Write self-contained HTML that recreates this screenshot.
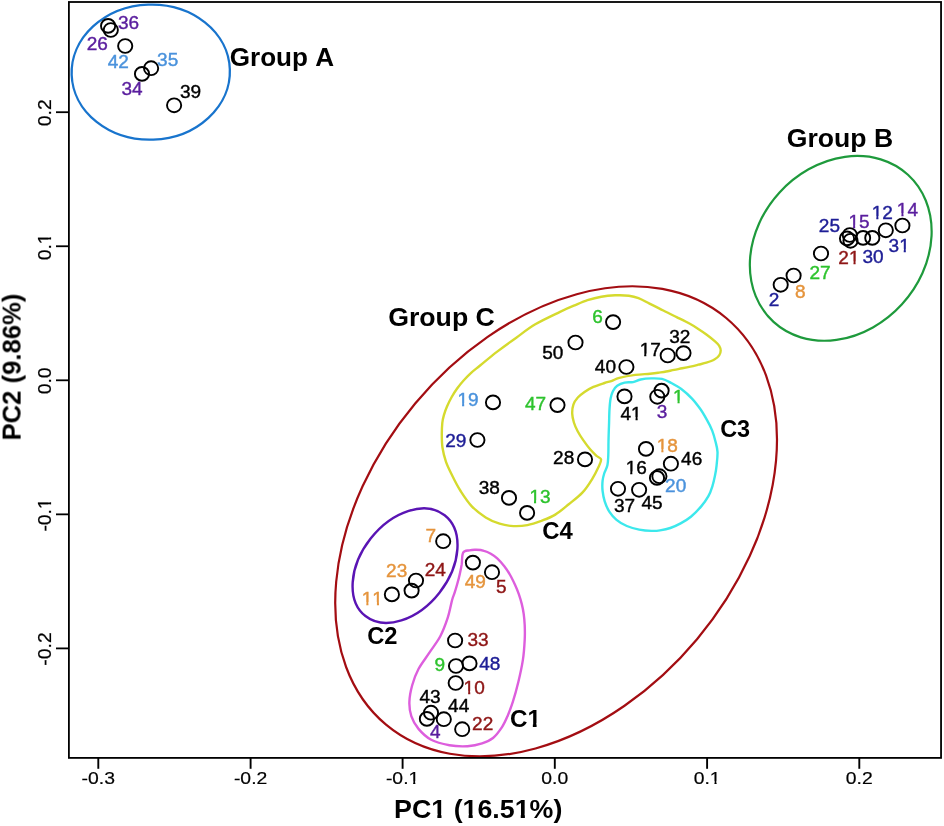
<!DOCTYPE html><html><head><meta charset="utf-8"><style>html,body{margin:0;padding:0;background:#fff;}svg{display:block;}text{font-family:"Liberation Sans",sans-serif;font-kerning:none;}svg{will-change:transform;}</style></head><body>
<svg width="944" height="826" viewBox="0 0 944 826">
<rect width="944" height="826" fill="#fff"/>
<g fill="none">
<ellipse cx="150.75" cy="72.12" rx="79.14" ry="67.56" transform="rotate(-2.13 150.75 72.12)" stroke="#1874CD" stroke-width="2.3"/>
<ellipse cx="840.74" cy="248.35" rx="82.9" ry="99.65" transform="rotate(42.42 840.74 248.35)" stroke="#1E9A3C" stroke-width="2.2"/>
<ellipse cx="556.1" cy="521.33" rx="265.09" ry="183.72" transform="rotate(-50.09 556.1 521.33)" stroke="#A30D12" stroke-width="2.2"/>
<ellipse cx="405.05" cy="565.63" rx="64.08" ry="43.77" transform="rotate(-51.83 405.05 565.63)" stroke="#5A14B4" stroke-width="2.4"/>
<path d="M460.6,491.0 C457.4,485.9 454.7,480.6 452.3,475.7 C449.9,470.8 447.6,466.4 446.0,461.8 C444.4,457.2 443.2,452.5 442.5,447.8 C441.8,443.1 441.8,438.0 441.8,433.9 C441.8,429.8 442.0,426.1 442.3,423.0 C442.6,419.9 443.1,417.9 443.9,415.1 C444.7,412.4 445.7,409.5 447.0,406.5 C448.3,403.5 450.0,400.0 451.7,397.0 C453.4,394.0 455.3,391.1 457.3,388.3 C459.3,385.6 461.2,383.1 463.6,380.5 C466.0,377.9 468.6,375.1 471.4,372.6 C474.1,370.1 475.8,369.0 480.1,365.5 C484.4,362.0 491.2,356.2 497.2,351.6 C503.2,347.0 509.9,342.2 516.3,337.7 C522.6,333.1 528.0,328.6 535.3,324.3 C542.6,320.0 553.6,315.0 560.0,311.9 C566.4,308.8 569.2,307.6 573.8,305.7 C578.4,303.8 582.9,301.7 587.5,300.2 C592.1,298.7 596.7,297.5 601.3,296.7 C605.9,295.9 610.5,295.5 615.1,295.3 C619.7,295.1 625.0,295.2 628.9,295.7 C632.8,296.2 635.1,296.8 638.5,298.1 C641.9,299.4 645.4,301.5 649.5,303.6 C653.6,305.7 658.7,308.2 663.3,310.5 C667.9,312.8 672.6,315.1 677.1,317.4 C681.6,319.6 686.8,322.1 690.3,324.0 C693.8,325.9 695.6,327.1 698.3,328.9 C701.0,330.6 703.7,332.5 706.4,334.5 C709.1,336.5 712.3,339.0 714.4,340.9 C716.5,342.8 718.2,344.2 719.2,345.8 C720.2,347.4 720.7,349.0 720.7,350.6 C720.7,352.2 720.2,353.9 719.2,355.4 C718.2,356.9 716.5,358.3 714.4,359.5 C712.3,360.7 709.1,361.8 706.4,362.7 C703.7,363.6 701.0,364.0 698.3,364.7 C695.6,365.4 693.0,366.1 690.3,366.7 C687.6,367.3 684.9,367.8 682.2,368.3 C679.5,368.8 676.9,369.4 674.2,369.9 C671.5,370.4 668.8,371.0 666.1,371.5 C663.4,372.0 660.8,372.3 658.1,372.7 C655.4,373.1 653.8,373.3 650.0,373.7 C646.2,374.1 640.4,374.2 635.3,374.9 C630.2,375.6 623.2,376.9 619.3,377.9 C615.4,378.9 614.5,379.9 612.0,380.8 C609.5,381.7 607.6,382.0 604.5,383.0 C601.4,384.0 596.7,385.4 593.4,386.9 C590.1,388.4 587.1,390.1 584.5,391.9 C581.9,393.7 579.6,395.4 577.8,397.5 C575.9,399.6 574.3,402.0 573.4,404.7 C572.5,407.4 572.1,410.6 572.2,413.6 C572.3,416.6 573.0,419.5 573.9,422.5 C574.8,425.5 576.2,428.5 577.8,431.5 C579.4,434.5 581.3,437.4 583.4,440.4 C585.5,443.4 587.9,446.7 590.1,449.3 C592.3,451.9 594.9,454.3 596.7,456.0 C598.5,457.7 600.6,457.6 601.0,459.3 C601.4,461.0 600.5,462.8 599.0,466.0 C597.5,469.2 595.0,474.4 592.3,478.8 C589.6,483.2 586.5,488.2 582.6,492.4 C578.7,496.6 573.7,500.3 569.1,504.0 C564.5,507.7 559.9,511.8 555.3,514.6 C550.7,517.4 545.9,519.1 541.3,520.9 C536.6,522.6 532.0,524.2 527.4,525.1 C522.8,526.0 518.1,526.3 513.5,526.1 C508.9,525.9 504.2,525.2 499.6,523.7 C495.0,522.2 490.3,520.3 485.7,517.4 C481.1,514.5 476.0,510.7 471.8,506.3 C467.6,501.9 463.9,496.1 460.6,491.0 Z" stroke="#D5DA2E" stroke-width="2.4"/>
<path d="M624.6,382.6 C627.2,382.0 630.4,382.6 633.1,382.1 C635.8,381.6 637.6,380.1 640.6,379.5 C643.6,378.9 647.6,378.5 651.2,378.4 C654.8,378.3 658.8,378.2 662.0,378.9 C665.2,379.6 667.4,380.9 670.6,382.6 C673.8,384.3 677.7,386.3 681.3,389.0 C684.9,391.7 688.8,395.2 692.0,398.6 C695.2,402.0 698.0,405.8 700.5,409.3 C703.0,412.9 704.9,416.3 706.9,419.9 C708.9,423.4 710.8,427.1 712.2,430.6 C713.6,434.2 714.5,437.6 715.4,441.2 C716.3,444.8 717.3,447.9 717.5,451.9 C717.7,455.9 717.0,461.4 716.6,465.3 C716.2,469.2 715.7,472.2 715.0,475.6 C714.3,479.0 713.6,482.5 712.5,485.9 C711.4,489.3 710.3,492.8 708.4,496.2 C706.5,499.6 704.1,503.0 701.2,506.4 C698.3,509.8 694.3,513.9 690.9,516.7 C687.5,519.5 684.0,521.5 680.6,523.4 C677.2,525.3 673.7,526.8 670.3,528.0 C666.9,529.2 663.1,529.9 660.0,530.4 C656.9,530.9 655.0,531.0 651.5,530.9 C648.0,530.8 643.3,530.4 639.2,529.6 C635.1,528.8 630.6,527.6 626.8,526.0 C623.0,524.4 619.4,522.2 616.5,519.8 C613.6,517.4 611.3,514.7 609.3,511.6 C607.3,508.5 605.8,504.7 604.7,501.3 C603.6,497.9 603.0,494.4 602.6,491.0 C602.2,487.6 602.3,483.6 602.6,480.7 C602.9,477.8 603.4,476.1 604.2,473.5 C605.0,470.9 606.7,468.4 607.4,465.3 C608.1,462.2 608.1,459.0 608.3,455.0 C608.5,451.0 608.4,446.2 608.5,441.2 C608.6,436.2 608.8,430.5 609.0,425.2 C609.2,419.9 609.2,413.7 609.5,409.3 C609.8,404.9 610.0,401.6 610.6,398.6 C611.2,395.6 611.8,393.3 612.9,391.2 C614.0,389.1 615.2,387.2 617.2,385.8 C619.2,384.4 622.0,383.2 624.6,382.6 Z" stroke="#3CE8EC" stroke-width="2.4"/>
<path d="M463.1,552.8 C464.4,550.4 467.2,550.8 469.4,550.3 C471.6,549.8 473.8,549.7 476.2,549.8 C478.6,549.9 481.6,550.1 484.0,550.8 C486.4,551.4 488.6,552.4 490.8,553.7 C493.1,555.0 495.2,556.5 497.5,558.6 C499.8,560.7 502.2,563.6 504.3,566.3 C506.4,569.0 508.3,571.9 510.1,575.0 C511.9,578.1 513.5,581.5 515.0,584.7 C516.5,587.9 517.8,591.2 518.9,594.4 C520.0,597.6 521.0,600.9 521.8,604.1 C522.6,607.3 523.2,610.3 523.7,613.8 C524.2,617.3 524.5,620.6 524.7,625.0 C524.9,629.4 525.0,634.1 524.7,639.9 C524.4,645.7 524.0,652.9 522.9,659.9 C521.8,666.9 520.1,674.7 518.4,681.7 C516.7,688.7 514.7,696.0 512.9,701.7 C511.1,707.5 509.3,712.0 507.5,716.2 C505.7,720.4 504.4,723.5 502.0,727.1 C499.6,730.7 496.3,735.3 493.0,738.0 C489.7,740.7 486.4,742.0 482.1,743.4 C477.9,744.8 472.9,745.9 467.5,746.2 C462.1,746.5 455.4,746.3 449.4,745.2 C443.3,744.1 436.3,742.5 431.2,739.8 C426.1,737.1 421.8,732.8 418.5,728.9 C415.2,725.0 412.8,720.7 411.3,716.2 C409.8,711.7 409.2,706.9 409.4,701.7 C409.5,696.6 410.7,690.8 412.2,685.3 C413.7,679.8 415.6,674.4 418.5,669.0 C421.4,663.6 425.8,658.2 429.4,652.7 C433.0,647.2 437.3,642.0 440.3,636.3 C443.3,630.5 445.6,624.2 447.6,618.2 C449.6,612.2 451.0,604.1 452.1,600.0 C453.2,595.9 453.5,596.1 454.4,593.4 C455.3,590.7 456.4,587.0 457.3,583.8 C458.2,580.6 459.1,577.3 459.8,574.1 C460.5,570.9 461.1,568.0 461.7,564.4 C462.2,560.8 461.8,555.1 463.1,552.8 Z" stroke="#DD5EDD" stroke-width="2.4"/>
</g>
<rect x="68.9" y="2.0" width="872.15" height="755.9" fill="none" stroke="#000" stroke-width="1.8"/>
<line x1="98.3" y1="757.9" x2="98.3" y2="768.8" stroke="#000" stroke-width="1.9"/>
<line x1="250.6" y1="757.9" x2="250.6" y2="768.8" stroke="#000" stroke-width="1.9"/>
<line x1="402.6" y1="757.9" x2="402.6" y2="768.8" stroke="#000" stroke-width="1.9"/>
<line x1="554.8" y1="757.9" x2="554.8" y2="768.8" stroke="#000" stroke-width="1.9"/>
<line x1="707.1" y1="757.9" x2="707.1" y2="768.8" stroke="#000" stroke-width="1.9"/>
<line x1="859.3" y1="757.9" x2="859.3" y2="768.8" stroke="#000" stroke-width="1.9"/>
<line x1="56.0" y1="112.2" x2="68.9" y2="112.2" stroke="#000" stroke-width="1.8"/>
<line x1="56.0" y1="246.25" x2="68.9" y2="246.25" stroke="#000" stroke-width="1.8"/>
<line x1="56.0" y1="380.3" x2="68.9" y2="380.3" stroke="#000" stroke-width="1.8"/>
<line x1="56.0" y1="514.35" x2="68.9" y2="514.35" stroke="#000" stroke-width="1.8"/>
<line x1="56.0" y1="648.4" x2="68.9" y2="648.4" stroke="#000" stroke-width="1.8"/>
<g fill="none" stroke="#000" stroke-width="1.9">
<ellipse cx="108.1" cy="25.9" rx="7.1" ry="6.9"/>
<ellipse cx="110.8" cy="30.0" rx="7.1" ry="6.9"/>
<ellipse cx="125.2" cy="46.0" rx="7.1" ry="6.9"/>
<ellipse cx="151.1" cy="68.2" rx="7.1" ry="6.9"/>
<ellipse cx="142.0" cy="73.9" rx="7.1" ry="6.9"/>
<ellipse cx="174.1" cy="105.3" rx="7.1" ry="6.9"/>
<ellipse cx="780.7" cy="284.8" rx="7.1" ry="6.9"/>
<ellipse cx="793.6" cy="275.5" rx="7.1" ry="6.9"/>
<ellipse cx="821.0" cy="253.5" rx="7.1" ry="6.9"/>
<ellipse cx="849.8" cy="235.0" rx="7.1" ry="6.9"/>
<ellipse cx="847.0" cy="238.4" rx="7.1" ry="6.9"/>
<ellipse cx="850.5" cy="240.8" rx="7.1" ry="6.9"/>
<ellipse cx="863.1" cy="237.9" rx="7.1" ry="6.9"/>
<ellipse cx="872.3" cy="237.9" rx="7.1" ry="6.9"/>
<ellipse cx="885.8" cy="230.3" rx="7.1" ry="6.9"/>
<ellipse cx="902.4" cy="225.5" rx="7.1" ry="6.9"/>
<ellipse cx="613.1" cy="322.1" rx="7.1" ry="6.9"/>
<ellipse cx="575.5" cy="342.5" rx="7.1" ry="6.9"/>
<ellipse cx="626.4" cy="367.0" rx="7.1" ry="6.9"/>
<ellipse cx="667.7" cy="355.5" rx="7.1" ry="6.9"/>
<ellipse cx="683.5" cy="353.1" rx="7.1" ry="6.9"/>
<ellipse cx="624.5" cy="396.4" rx="7.1" ry="6.9"/>
<ellipse cx="661.6" cy="390.6" rx="7.1" ry="6.9"/>
<ellipse cx="657.3" cy="396.8" rx="7.1" ry="6.9"/>
<ellipse cx="557.5" cy="405.1" rx="7.1" ry="6.9"/>
<ellipse cx="493.0" cy="402.4" rx="7.1" ry="6.9"/>
<ellipse cx="477.4" cy="440.0" rx="7.1" ry="6.9"/>
<ellipse cx="585.0" cy="459.4" rx="7.1" ry="6.9"/>
<ellipse cx="509.0" cy="497.9" rx="7.1" ry="6.9"/>
<ellipse cx="527.1" cy="512.9" rx="7.1" ry="6.9"/>
<ellipse cx="646.0" cy="448.9" rx="7.1" ry="6.9"/>
<ellipse cx="670.9" cy="463.7" rx="7.1" ry="6.9"/>
<ellipse cx="659.4" cy="476.2" rx="7.1" ry="6.9"/>
<ellipse cx="657.0" cy="477.9" rx="7.1" ry="6.9"/>
<ellipse cx="618.0" cy="488.8" rx="7.1" ry="6.9"/>
<ellipse cx="639.1" cy="489.8" rx="7.1" ry="6.9"/>
<ellipse cx="443.2" cy="541.2" rx="7.1" ry="6.9"/>
<ellipse cx="416.0" cy="580.5" rx="7.1" ry="6.9"/>
<ellipse cx="411.6" cy="590.6" rx="7.1" ry="6.9"/>
<ellipse cx="391.9" cy="594.4" rx="7.1" ry="6.9"/>
<ellipse cx="472.9" cy="562.6" rx="7.1" ry="6.9"/>
<ellipse cx="492.0" cy="572.2" rx="7.1" ry="6.9"/>
<ellipse cx="455.1" cy="640.5" rx="7.1" ry="6.9"/>
<ellipse cx="456.0" cy="666.0" rx="7.1" ry="6.9"/>
<ellipse cx="469.5" cy="663.4" rx="7.1" ry="6.9"/>
<ellipse cx="455.7" cy="683.0" rx="7.1" ry="6.9"/>
<ellipse cx="431.0" cy="712.7" rx="7.1" ry="6.9"/>
<ellipse cx="426.9" cy="718.9" rx="7.1" ry="6.9"/>
<ellipse cx="443.8" cy="719.2" rx="7.1" ry="6.9"/>
<ellipse cx="462.2" cy="729.2" rx="7.1" ry="6.9"/>
</g>
<defs><mask id="no1" maskUnits="userSpaceOnUse" x="0" y="0" width="944" height="826"><rect width="944" height="826" fill="#fff"/><g fill="#000"><g transform="translate(402.60,783.7) scale(1.12,1)"><rect x="5.60" y="-2.60" width="3.83" height="4.20"/><rect x="11.37" y="-2.60" width="3.69" height="4.20"/></g><g transform="translate(707.10,783.7) scale(1.12,1)"><rect x="2.72" y="-2.60" width="3.83" height="4.20"/><rect x="8.49" y="-2.60" width="3.69" height="4.20"/></g><g transform="translate(51.1,246.85) rotate(-90) scale(1.04,1)"><rect x="3.00" y="-2.70" width="4.05" height="4.29"/><rect x="9.11" y="-2.70" width="3.91" height="4.29"/></g><g transform="translate(51.1,514.95) rotate(-90) scale(1.04,1)"><rect x="6.09" y="-2.70" width="4.05" height="4.29"/><rect x="12.20" y="-2.70" width="3.91" height="4.29"/></g><g transform="translate(838.35,264.09) scale(1.080,1)"><rect x="10.13" y="-2.62" width="3.88" height="4.22"/><rect x="15.97" y="-2.62" width="3.74" height="4.22"/></g><g transform="translate(888.57,251.56) scale(1.080,1)"><rect x="10.13" y="-2.62" width="3.88" height="4.22"/><rect x="15.97" y="-2.62" width="3.74" height="4.22"/></g><g transform="translate(848.52,228.07) scale(1.080,1)"><rect x="0.34" y="-2.62" width="3.88" height="4.22"/><rect x="6.18" y="-2.62" width="3.74" height="4.22"/></g><g transform="translate(871.74,218.79) scale(1.080,1)"><rect x="0.34" y="-2.62" width="3.88" height="4.22"/><rect x="6.18" y="-2.62" width="3.74" height="4.22"/></g><g transform="translate(896.84,215.85) scale(1.080,1)"><rect x="0.34" y="-2.62" width="3.88" height="4.22"/><rect x="6.18" y="-2.62" width="3.74" height="4.22"/></g><g transform="translate(639.64,356.30) scale(1.080,1)"><rect x="0.34" y="-2.62" width="3.88" height="4.22"/><rect x="6.18" y="-2.62" width="3.74" height="4.22"/></g><g transform="translate(620.41,419.80) scale(1.080,1)"><rect x="10.13" y="-2.62" width="3.88" height="4.22"/><rect x="15.97" y="-2.62" width="3.74" height="4.22"/></g><g transform="translate(672.96,403.30) scale(1.080,1)"><rect x="0.34" y="-2.62" width="3.88" height="4.22"/><rect x="6.18" y="-2.62" width="3.74" height="4.22"/></g><g transform="translate(457.52,405.86) scale(1.080,1)"><rect x="0.34" y="-2.62" width="3.88" height="4.22"/><rect x="6.18" y="-2.62" width="3.74" height="4.22"/></g><g transform="translate(529.43,502.96) scale(1.080,1)"><rect x="0.34" y="-2.62" width="3.88" height="4.22"/><rect x="6.18" y="-2.62" width="3.74" height="4.22"/></g><g transform="translate(656.78,451.61) scale(1.080,1)"><rect x="0.34" y="-2.62" width="3.88" height="4.22"/><rect x="6.18" y="-2.62" width="3.74" height="4.22"/></g><g transform="translate(625.68,474.16) scale(1.080,1)"><rect x="0.34" y="-2.62" width="3.88" height="4.22"/><rect x="6.18" y="-2.62" width="3.74" height="4.22"/></g><g transform="translate(361.77,604.80) scale(1.080,1)"><rect x="0.34" y="-2.62" width="3.88" height="4.22"/><rect x="6.18" y="-2.62" width="3.74" height="4.22"/><rect x="10.13" y="-2.62" width="3.88" height="4.22"/><rect x="15.97" y="-2.62" width="3.74" height="4.22"/></g><g transform="translate(463.59,693.51) scale(1.080,1)"><rect x="0.34" y="-2.62" width="3.88" height="4.22"/><rect x="6.18" y="-2.62" width="3.74" height="4.22"/></g><g transform="translate(509.91,726.90) scale(1.001,1)"><rect x="18.00" y="-3.77" width="4.91" height="5.37"/><rect x="26.65" y="-3.77" width="4.60" height="5.37"/></g><g transform="translate(394.11,817.50) scale(1.063,1)"><rect x="35.59" y="-3.87" width="5.08" height="5.47"/><rect x="44.56" y="-3.87" width="4.76" height="5.47"/><rect x="65.00" y="-3.87" width="5.08" height="5.47"/><rect x="73.96" y="-3.87" width="4.76" height="5.47"/><rect x="114.05" y="-3.87" width="5.08" height="5.47"/><rect x="123.01" y="-3.87" width="4.76" height="5.47"/></g></g></mask></defs>
<g mask="url(#no1)">
<text transform="translate(98.30,783.7) scale(1.12,1)" font-size="17.3" text-anchor="middle" fill="#000" stroke="#000" stroke-width="0.2">-0.3</text>
<text transform="translate(250.60,783.7) scale(1.12,1)" font-size="17.3" text-anchor="middle" fill="#000" stroke="#000" stroke-width="0.2">-0.2</text>
<text transform="translate(402.60,783.7) scale(1.12,1)" font-size="17.3" text-anchor="middle" fill="#000" stroke="#000" stroke-width="0.2">-0.1</text>
<text transform="translate(554.80,783.7) scale(1.12,1)" font-size="17.3" text-anchor="middle" fill="#000" stroke="#000" stroke-width="0.2">0.0</text>
<text transform="translate(707.10,783.7) scale(1.12,1)" font-size="17.3" text-anchor="middle" fill="#000" stroke="#000" stroke-width="0.2">0.1</text>
<text transform="translate(859.30,783.7) scale(1.12,1)" font-size="17.3" text-anchor="middle" fill="#000" stroke="#000" stroke-width="0.2">0.2</text>
<text transform="translate(51.1,112.80) rotate(-90) scale(1.04,1)" font-size="18.6" text-anchor="middle" fill="#000" stroke="#000" stroke-width="0.2">0.2</text>
<text transform="translate(51.1,246.85) rotate(-90) scale(1.04,1)" font-size="18.6" text-anchor="middle" fill="#000" stroke="#000" stroke-width="0.2">0.1</text>
<text transform="translate(51.1,380.90) rotate(-90) scale(1.04,1)" font-size="18.6" text-anchor="middle" fill="#000" stroke="#000" stroke-width="0.2">0.0</text>
<text transform="translate(51.1,514.95) rotate(-90) scale(1.04,1)" font-size="18.6" text-anchor="middle" fill="#000" stroke="#000" stroke-width="0.2">-0.1</text>
<text transform="translate(51.1,649.00) rotate(-90) scale(1.04,1)" font-size="18.6" text-anchor="middle" fill="#000" stroke="#000" stroke-width="0.2">-0.2</text>
<text transform="translate(117.93,29.31) scale(1.080,1)" font-size="17.6" fill="#5A1E9E" stroke="#5A1E9E" stroke-width="0.4">36</text>
<text transform="translate(86.67,50.06) scale(1.080,1)" font-size="17.6" fill="#5A1E9E" stroke="#5A1E9E" stroke-width="0.4">26</text>
<text transform="translate(107.69,68.19) scale(1.080,1)" font-size="17.6" fill="#4A92DC" stroke="#4A92DC" stroke-width="0.4">42</text>
<text transform="translate(157.07,65.96) scale(1.080,1)" font-size="17.6" fill="#4A92DC" stroke="#4A92DC" stroke-width="0.4">35</text>
<text transform="translate(121.50,95.41) scale(1.080,1)" font-size="17.6" fill="#5A1E9E" stroke="#5A1E9E" stroke-width="0.4">34</text>
<text transform="translate(179.92,98.11) scale(1.080,1)" font-size="17.6" fill="#000000" stroke="#000000" stroke-width="0.4">39</text>
<text transform="translate(768.76,305.99) scale(1.080,1)" font-size="17.6" fill="#1E1E96" stroke="#1E1E96" stroke-width="0.4">2</text>
<text transform="translate(795.11,298.06) scale(1.080,1)" font-size="17.6" fill="#E5943C" stroke="#E5943C" stroke-width="0.4">8</text>
<text transform="translate(809.48,279.14) scale(1.080,1)" font-size="17.6" fill="#2DC32D" stroke="#2DC32D" stroke-width="0.4">27</text>
<text transform="translate(838.35,264.09) scale(1.080,1)" font-size="17.6" fill="#8E1616" stroke="#8E1616" stroke-width="0.4">21</text>
<text transform="translate(862.54,262.96) scale(1.080,1)" font-size="17.6" fill="#1E1E96" stroke="#1E1E96" stroke-width="0.4">30</text>
<text transform="translate(888.57,251.56) scale(1.080,1)" font-size="17.6" fill="#1E1E96" stroke="#1E1E96" stroke-width="0.4">31</text>
<text transform="translate(818.85,232.41) scale(1.080,1)" font-size="17.6" fill="#1E1E96" stroke="#1E1E96" stroke-width="0.4">25</text>
<text transform="translate(848.52,228.07) scale(1.080,1)" font-size="17.6" fill="#5A1E9E" stroke="#5A1E9E" stroke-width="0.4">15</text>
<text transform="translate(871.74,218.79) scale(1.080,1)" font-size="17.6" fill="#1E1E96" stroke="#1E1E96" stroke-width="0.4">12</text>
<text transform="translate(896.84,215.85) scale(1.080,1)" font-size="17.6" fill="#5A1E9E" stroke="#5A1E9E" stroke-width="0.4">14</text>
<text transform="translate(592.15,323.01) scale(1.080,1)" font-size="17.6" fill="#2DC32D" stroke="#2DC32D" stroke-width="0.4">6</text>
<text transform="translate(542.22,358.66) scale(1.080,1)" font-size="17.6" fill="#000000" stroke="#000000" stroke-width="0.4">50</text>
<text transform="translate(594.83,372.86) scale(1.080,1)" font-size="17.6" fill="#000000" stroke="#000000" stroke-width="0.4">40</text>
<text transform="translate(639.64,356.30) scale(1.080,1)" font-size="17.6" fill="#000000" stroke="#000000" stroke-width="0.4">17</text>
<text transform="translate(669.19,342.81) scale(1.080,1)" font-size="17.6" fill="#000000" stroke="#000000" stroke-width="0.4">32</text>
<text transform="translate(620.41,419.80) scale(1.080,1)" font-size="17.6" fill="#000000" stroke="#000000" stroke-width="0.4">41</text>
<text transform="translate(672.96,403.30) scale(1.080,1)" font-size="17.6" fill="#2DC32D" stroke="#2DC32D" stroke-width="0.4">1</text>
<text transform="translate(656.72,417.51) scale(1.080,1)" font-size="17.6" fill="#5A1E9E" stroke="#5A1E9E" stroke-width="0.4">3</text>
<text transform="translate(524.89,409.80) scale(1.080,1)" font-size="17.6" fill="#2DC32D" stroke="#2DC32D" stroke-width="0.4">47</text>
<text transform="translate(457.52,405.86) scale(1.080,1)" font-size="17.6" fill="#4A92DC" stroke="#4A92DC" stroke-width="0.4">19</text>
<text transform="translate(445.20,447.26) scale(1.080,1)" font-size="17.6" fill="#1E1E96" stroke="#1E1E96" stroke-width="0.4">29</text>
<text transform="translate(553.11,463.81) scale(1.080,1)" font-size="17.6" fill="#000000" stroke="#000000" stroke-width="0.4">28</text>
<text transform="translate(478.63,494.26) scale(1.080,1)" font-size="17.6" fill="#000000" stroke="#000000" stroke-width="0.4">38</text>
<text transform="translate(529.43,502.96) scale(1.080,1)" font-size="17.6" fill="#2DC32D" stroke="#2DC32D" stroke-width="0.4">13</text>
<text transform="translate(656.78,451.61) scale(1.080,1)" font-size="17.6" fill="#E5943C" stroke="#E5943C" stroke-width="0.4">18</text>
<text transform="translate(681.08,465.11) scale(1.080,1)" font-size="17.6" fill="#000000" stroke="#000000" stroke-width="0.4">46</text>
<text transform="translate(625.68,474.16) scale(1.080,1)" font-size="17.6" fill="#000000" stroke="#000000" stroke-width="0.4">16</text>
<text transform="translate(665.12,492.16) scale(1.080,1)" font-size="17.6" fill="#4A92DC" stroke="#4A92DC" stroke-width="0.4">20</text>
<text transform="translate(614.04,511.91) scale(1.080,1)" font-size="17.6" fill="#000000" stroke="#000000" stroke-width="0.4">37</text>
<text transform="translate(641.51,508.82) scale(1.080,1)" font-size="17.6" fill="#000000" stroke="#000000" stroke-width="0.4">45</text>
<text transform="translate(425.41,542.05) scale(1.080,1)" font-size="17.6" fill="#E5943C" stroke="#E5943C" stroke-width="0.4">7</text>
<text transform="translate(424.73,575.74) scale(1.080,1)" font-size="17.6" fill="#8E1616" stroke="#8E1616" stroke-width="0.4">24</text>
<text transform="translate(386.07,577.06) scale(1.080,1)" font-size="17.6" fill="#E5943C" stroke="#E5943C" stroke-width="0.4">23</text>
<text transform="translate(361.77,604.80) scale(1.080,1)" font-size="17.6" fill="#E5943C" stroke="#E5943C" stroke-width="0.4">11</text>
<text transform="translate(464.76,587.66) scale(1.080,1)" font-size="17.6" fill="#E5943C" stroke="#E5943C" stroke-width="0.4">49</text>
<text transform="translate(495.93,592.87) scale(1.080,1)" font-size="17.6" fill="#8E1616" stroke="#8E1616" stroke-width="0.4">5</text>
<text transform="translate(467.53,645.86) scale(1.080,1)" font-size="17.6" fill="#8E1616" stroke="#8E1616" stroke-width="0.4">33</text>
<text transform="translate(434.47,670.61) scale(1.080,1)" font-size="17.6" fill="#2DC32D" stroke="#2DC32D" stroke-width="0.4">9</text>
<text transform="translate(479.17,670.46) scale(1.080,1)" font-size="17.6" fill="#1E1E96" stroke="#1E1E96" stroke-width="0.4">48</text>
<text transform="translate(463.59,693.51) scale(1.080,1)" font-size="17.6" fill="#8E1616" stroke="#8E1616" stroke-width="0.4">10</text>
<text transform="translate(419.53,703.21) scale(1.080,1)" font-size="17.6" fill="#000000" stroke="#000000" stroke-width="0.4">43</text>
<text transform="translate(429.92,738.10) scale(1.080,1)" font-size="17.6" fill="#5A1E9E" stroke="#5A1E9E" stroke-width="0.4">4</text>
<text transform="translate(448.09,711.50) scale(1.080,1)" font-size="17.6" fill="#000000" stroke="#000000" stroke-width="0.4">44</text>
<text transform="translate(472.08,730.09) scale(1.080,1)" font-size="17.6" fill="#8E1616" stroke="#8E1616" stroke-width="0.4">22</text>
<text transform="translate(229.73,65.50) scale(1.035,1)" font-size="25.2" font-weight="bold" fill="#000">Group A</text>
<text transform="translate(786.81,147.30) scale(1.055,1)" font-size="25.2" font-weight="bold" fill="#000">Group B</text>
<text transform="translate(388.21,325.60) scale(1.059,1)" font-size="25.2" font-weight="bold" fill="#000">Group C</text>
<text transform="translate(509.91,726.90) scale(1.001,1)" font-size="24.2" font-weight="bold" fill="#000">C1</text>
<text transform="translate(367.13,644.30) scale(0.980,1)" font-size="24.2" font-weight="bold" fill="#000">C2</text>
<text transform="translate(720.14,436.90) scale(0.995,1)" font-size="23.6" font-weight="bold" fill="#000">C3</text>
<text transform="translate(542.22,538.60) scale(1.003,1)" font-size="23.8" font-weight="bold" fill="#000">C4</text>
<text transform="translate(394.11,817.50) scale(1.063,1)" font-size="25.2" font-weight="bold" fill="#000">PC1 (16.51%)</text>
<text transform="translate(20.6,440.42) rotate(-90) scale(1.026,1)" font-size="25.0" font-weight="bold" fill="#000">PC2 (9.86%)</text>
</g>
</svg></body></html>
